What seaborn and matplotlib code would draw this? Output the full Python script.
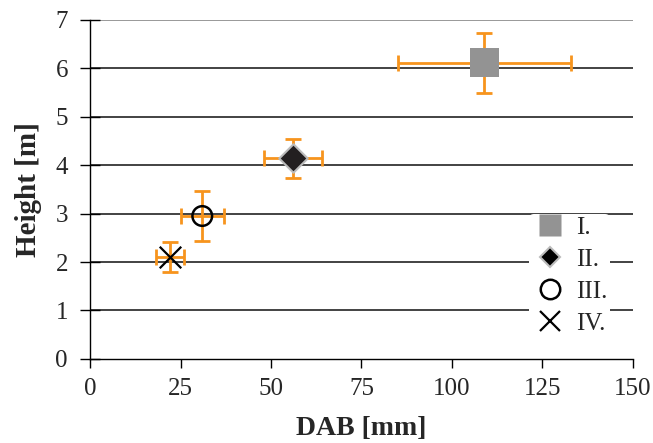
import matplotlib
matplotlib.use("Agg")
import matplotlib.pyplot as plt
import seaborn as sns
import pandas as pd
from matplotlib.lines import Line2D

sns.set_theme(style="white")
plt.rcParams['font.family'] = ['Liberation Serif', 'DejaVu Serif']

groups = ["I.", "II.", "III.", "IV."]
dab = [109.0, 56.0, 31.0, 22.0]
height = [6.12, 4.14, 2.95, 2.10]
dab_err = [24.0, 8.0, 6.0, 3.9]
height_err = [0.62, 0.41, 0.52, 0.31]

df = pd.DataFrame({"group": groups, "dab": dab, "height": height,
                   "dab_err": dab_err, "height_err": height_err})

fig = plt.figure(figsize=(6.53, 4.43), dpi=100)
ax = fig.add_axes([0.138, 0.19, 0.831, 0.765])

for y in range(1, 8):
    ax.axhline(y, color="#222222" if y < 7 else "#888888", lw=1.2, zorder=0)

orange = "#F7941D"
ax.errorbar(df["dab"], df["height"], xerr=df["dab_err"], yerr=df["height_err"],
            fmt="none", ecolor=orange, elinewidth=2, capsize=5.5, capthick=2, zorder=2)

styles = {
    "I.": dict(marker="s", s=460, color="#939393", edgecolor="none", linewidth=0),
    "II.": dict(marker="D", s=210, color="#231F20", edgecolor="#BBBBBB", linewidth=1.5),
    "III.": dict(marker="o", s=200, color="none", edgecolor="black", linewidth=1.8),
    "IV.": dict(marker="x", s=240, color="black", linewidth=1.6),
}
for g in groups:
    sub = df[df["group"] == g]
    sns.scatterplot(data=sub, x="dab", y="height", ax=ax, zorder=3, legend=False, **styles[g])

ax.set_xlim(0, 150)
ax.set_ylim(0, 7)
ax.set_xticks([0, 25, 50, 75, 100, 125, 150])
ax.set_yticks(range(0, 8))
ax.tick_params(axis="both", labelsize=18, width=1, color="black", left=True, bottom=True)
ax.tick_params(axis="x", direction="out", length=6.5, pad=7)
ax.tick_params(axis="y", direction="inout", length=14, pad=9)
for s in ["top", "right"]:
    ax.spines[s].set_visible(False)
for s in ["left", "bottom"]:
    ax.spines[s].set_color("black")
    ax.spines[s].set_linewidth(1)

ax.set_xlabel("DAB [mm]", fontsize=20, fontweight="bold", labelpad=12)
ax.set_ylabel("Height [m]", fontsize=21, fontweight="bold", labelpad=10)

handles = [
    Line2D([], [], ls="none", marker="s", ms=16, mfc="#939393", mec="none"),
    Line2D([], [], ls="none", marker="D", ms=10, mfc="black", mec="#BBBBBB", mew=1.5),
    Line2D([], [], ls="none", marker="o", ms=14, mfc="none", mec="black", mew=1.8),
    Line2D([], [], ls="none", marker="x", ms=15, color="black", mew=1.6),
]
leg = ax.legend(handles, groups, loc="center left", bbox_to_anchor=(0.785, 0.246), frameon=True,
                facecolor="white", edgecolor="none", framealpha=1, fontsize=18,
                handletextpad=0.3, labelspacing=0.38, borderpad=0.1, handlelength=1.5)

fig.savefig("out.png", dpi=100)
